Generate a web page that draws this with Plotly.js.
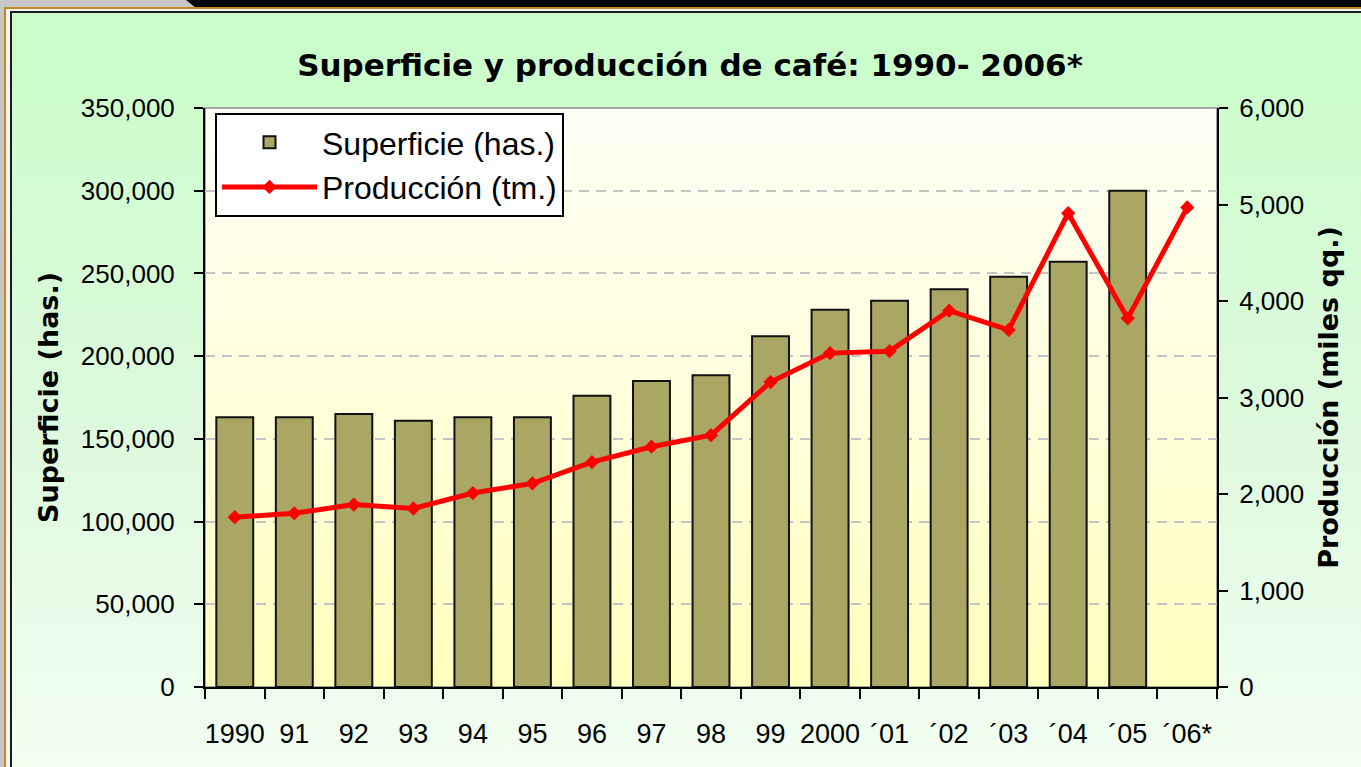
<!DOCTYPE html>
<html>
<head>
<meta charset="utf-8">
<script src="https://cdn.plot.ly/plotly-3.0.1.min.js"></script>
<style>
  html, body { margin: 0; padding: 0; background: #c8c8c8; }
  #chart { width: 1361px; height: 767px; }
</style>
</head>
<body>
<div id="chart"></div>
<script>
// ---- data ----
const years = ["1990","91","92","93","94","95","96","97","98","99","2000","´01","´02","´03","´04","´05","´06*"];
const superficie = [163000,163000,165000,161000,163000,163000,176000,185000,188500,212000,228000,233500,240500,248000,257000,300000,null];
const produccion = [1760,1800,1890,1850,2010,2110,2330,2490,2610,3160,3460,3480,3900,3700,4910,3820,4970];

const titleText = "Superficie y producción de café: 1990- 2006*";
const supName = "Superficie (has.)";
const prodName = "Producción (tm.)";
const yTitleLeft = "Superficie (has.)";
const yTitleRight = "Producción (miles qq.)";

// ---- decorative backgrounds (SVG data URIs) ----
const W = 1361, H = 767;
const frameSvg =
  '<svg xmlns="http://www.w3.org/2000/svg" width="' + W + '" height="' + H + '" viewBox="0 0 ' + W + ' ' + H + '" preserveAspectRatio="none">' +
  '<defs><linearGradient id="g" x1="0" y1="0" x2="0" y2="1">' +
  '<stop offset="0" stop-color="#c9fdc9"/><stop offset="0.55" stop-color="#def9de"/><stop offset="1" stop-color="#f3fff3"/></linearGradient></defs>' +
  '<rect x="0" y="0" width="' + W + '" height="' + H + '" fill="#c8c8c8"/>' +
  '<polygon points="186,0 ' + W + ',0 ' + W + ',8 196,8" fill="#050505"/>' +
  '<rect x="4" y="7" width="' + (W - 4) + '" height="2" fill="#c08a20"/>' +
  '<rect x="4" y="7" width="2" height="' + H + '" fill="#c08a20"/>' +
  '<rect x="6" y="9" width="' + W + '" height="' + H + '" fill="#f4f4f4"/>' +
  '<rect x="10" y="11" width="' + W + '" height="2" fill="#1a1a1a"/>' +
  '<rect x="10" y="11" width="2" height="' + H + '" fill="#1a1a1a"/>' +
  '<rect x="12" y="13" width="' + W + '" height="' + H + '" fill="url(#g)"/>' +
  '</svg>';
const plotSvg =
  '<svg xmlns="http://www.w3.org/2000/svg" width="100" height="100" viewBox="0 0 100 100" preserveAspectRatio="none">' +
  '<defs><linearGradient id="p" x1="0" y1="0" x2="0" y2="1">' +
  '<stop offset="0" stop-color="#fffff6"/><stop offset="0.5" stop-color="#ffffdc"/><stop offset="1" stop-color="#ffffbe"/></linearGradient></defs>' +
  '<rect x="0" y="0" width="100" height="100" fill="url(#p)"/></svg>';
const uri = s => "data:image/svg+xml;charset=utf-8," + encodeURIComponent(s);

// ---- layout geometry ----
const M = { l: 205, r: 144, t: 108, b: 80 };
const PW = W - M.l - M.r, PH = H - M.t - M.b;

const tickFont = { family: "Liberation Sans, Arial, sans-serif", size: 26, color: "#000" };
const xTickFont = { family: "Liberation Sans, Arial, sans-serif", size: 27, color: "#000" };
const boldFont = { family: "DejaVu Sans, Verdana, sans-serif", size: 27, color: "#000", weight: "bold" };

const traces = [
  {
    type: "bar",
    x: years,
    y: superficie,
    name: supName,
    width: 0.62,
    marker: { color: "#aaa664", line: { color: "#111", width: 2 } },
    yaxis: "y",
    hoverinfo: "x+y"
  },
  {
    type: "scatter",
    mode: "lines+markers",
    x: years,
    y: produccion,
    name: prodName,
    yaxis: "y2",
    line: { color: "#ff0000", width: 5 },
    marker: { symbol: "diamond", size: 11, color: "#ff0000" }
  }
];

const layout = {
  width: W, height: H, autosize: false,
  margin: M,
  paper_bgcolor: "#ccffcc",
  plot_bgcolor: "rgba(0,0,0,0)",
  showlegend: true,
  title: {
    text: "<b>" + titleText + "</b>",
    font: { family: "DejaVu Sans, Verdana, sans-serif", size: 31, color: "#000" },
    x: 690 / W, xanchor: "center",
    y: 1 - 65 / H, yanchor: "middle", yref: "container"
  },
  xaxis: {
    type: "category",
    tickson: "boundaries",
    tickangle: 0,
    ticks: "outside", ticklen: 10, tickwidth: 2, tickcolor: "#000",
    showline: true, linecolor: "#000", linewidth: 2,
    showgrid: false,
    tickfont: xTickFont,
    ticklabelstandoff: 22,
    range: [-0.5, 16.5]
  },
  yaxis: {
    range: [0, 350000],
    dtick: 50000,
    tickformat: ",d",
    ticks: "outside", ticklen: 9, tickwidth: 2, tickcolor: "#000",
    showline: true, linecolor: "#000", linewidth: 2,
    showgrid: true, gridcolor: "#c4c4c4", gridwidth: 2, griddash: "10px,7px",
    zeroline: false,
    tickfont: tickFont,
    ticklabelstandoff: 14,
    title: { text: "<b>" + yTitleLeft + "</b>", font: boldFont, standoff: 14 }
  },
  yaxis2: {
    overlaying: "y",
    side: "right",
    range: [0, 6000],
    dtick: 1000,
    tickformat: ",d",
    ticks: "outside", ticklen: 9, tickwidth: 2, tickcolor: "#000",
    showline: true, linecolor: "#000", linewidth: 2,
    showgrid: false, zeroline: false,
    tickfont: tickFont,
    ticklabelstandoff: 6,
    title: { text: "<b>" + yTitleRight + "</b>", font: boldFont, standoff: 16 }
  },
  legend: {
    x: 10 / PW, xanchor: "left",
    y: 1 - 5 / PH, yanchor: "top",
    bgcolor: "#ffffff",
    bordercolor: "#000", borderwidth: 2,
    font: { family: "Liberation Sans, Arial, sans-serif", size: 32, color: "#000" },
    itemwidth: 95,
    traceorder: "normal"
  },
  images: [
    {
      source: uri(frameSvg), xref: "paper", yref: "paper",
      x: -M.l / PW, y: 1 + M.t / PH, sizex: W / PW, sizey: H / PH,
      xanchor: "left", yanchor: "top", sizing: "stretch", layer: "below"
    },
    {
      source: uri(plotSvg), xref: "paper", yref: "paper",
      x: 0, y: 1, sizex: 1, sizey: 1,
      xanchor: "left", yanchor: "top", sizing: "stretch", layer: "below"
    }
  ],
  shapes: [
    { type: "rect", xref: "paper", yref: "paper", x0: 0, x1: 1, y0: 0, y1: 1,
      line: { color: "#8a8a8a", width: 1.5 }, fillcolor: "rgba(0,0,0,0)", layer: "below" }
  ],
  bargap: 0.38
};

Plotly.newPlot("chart", traces, layout, { displayModeBar: false, staticPlot: true });
</script>
</body>
</html>
